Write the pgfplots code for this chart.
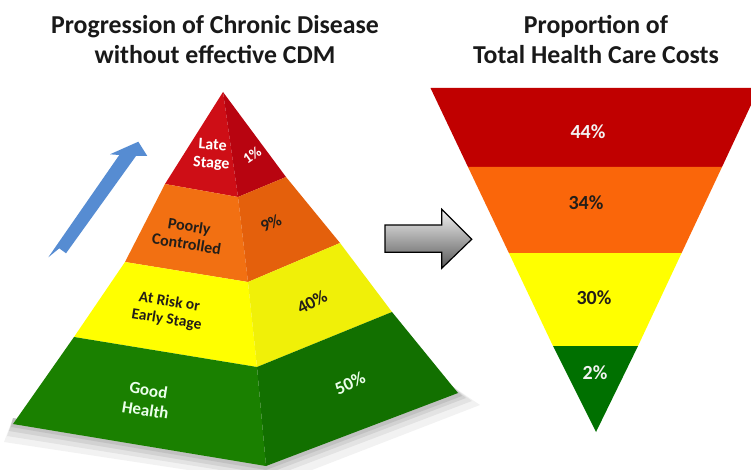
\documentclass[border=0pt]{standalone}
\usepackage{pgfplots}
\pgfplotsset{compat=1.18}
\usepackage{fontspec}
\setmainfont{Carlito}
\definecolor{redF}{RGB}{206,14,22}
\definecolor{redS}{RGB}{184,4,16}
\definecolor{orgF}{RGB}{242,112,18}
\definecolor{orgS}{RGB}{228,96,12}
\definecolor{yelF}{RGB}{255,255,0}
\definecolor{yelS}{RGB}{240,240,8}
\definecolor{grnF}{RGB}{26,128,0}
\definecolor{grnS}{RGB}{18,112,0}
\definecolor{fRed}{RGB}{192,0,0}
\definecolor{fOrg}{RGB}{250,102,10}
\definecolor{fYel}{RGB}{255,255,0}
\definecolor{fGrn}{RGB}{0,112,0}
\definecolor{arrowBlue}{RGB}{86,140,210}
\definecolor{darktxt}{RGB}{35,30,25}
\begin{document}
\begin{tikzpicture}
\begin{axis}[width=751pt,height=470pt,scale only axis,
  xmin=0,xmax=751,ymin=0,ymax=470,y dir=reverse,
  axis lines=none,ticks=none,clip=false,no markers]
% canvas
\addplot[draw=none,fill=white] coordinates {(0,0)(751,0)(751,470)(0,470)} -- cycle;
% soft shadow of pyramid
\addplot[draw=none,fill=black,opacity=0.05] coordinates {(13,418)(266,460)(452,386)(480,405)(312,470)(188,470)(4,442)} -- cycle;
\addplot[draw=none,fill=black,opacity=0.06] coordinates {(13,418)(266,460)(452,386)(472,401)(290,470)(220,470)(7,436)} -- cycle;
\addplot[draw=none,fill=black,opacity=0.07] coordinates {(13,418)(266,460)(452,386)(466,398)(277,470)(243,470)(9,431)} -- cycle;
\addplot[draw=none,fill=black,opacity=0.08] coordinates {(13,418)(266,460)(452,386)(462,396)(266,470)(11,427)} -- cycle;
% pyramid front faces
\addplot[draw=none,fill=redF] coordinates {(223,92)(165,184)(238,197)} -- cycle;
\addplot[draw=none,fill=orgF] coordinates {(165,184)(125,262)(248,282)(238,197)} -- cycle;
\addplot[draw=none,fill=yelF] coordinates {(125,262)(74,337)(257,367)(248,282)} -- cycle;
\addplot[draw=none,fill=grnF] coordinates {(74,337)(13,424)(266,466)(257,367)} -- cycle;
% pyramid side faces
\addplot[draw=none,fill=redS] coordinates {(223,92)(238,197)(286,177)} -- cycle;
\addplot[draw=none,fill=orgS] coordinates {(238,197)(248,282)(340,243)(286,177)} -- cycle;
\addplot[draw=none,fill=yelS] coordinates {(248,282)(257,367)(392,312)(340,243)} -- cycle;
\addplot[draw=none,fill=grnS] coordinates {(257,367)(266,466)(458,393)(392,312)} -- cycle;
% blue arrow
\addplot[draw=none,fill=arrowBlue] coordinates {(138.3,141.7)(147.3,156)(136,156)(66,253.3)(59.3,248.3)(48.3,257.3)(119.3,155)(110,154.3)} -- cycle;
% gray arrow
\addplot[draw=black,line width=1.2pt,top color=gray!10,bottom color=black!65] coordinates {(385,225)(441.7,225)(441.7,209.3)(471.7,239.3)(441.7,268.3)(441.7,252.3)(385,252.3)} -- cycle;
% funnel
\addplot[draw=none,fill=fRed] coordinates {(430.5,88)(751,88)(751,105)(722,167)(468,167)} -- cycle;
\addplot[draw=none,fill=fOrg] coordinates {(468,167)(722,167)(681.6,253)(508.9,253)} -- cycle;
\addplot[draw=none,fill=fYel] coordinates {(508.9,253)(681.6,253)(638,346)(553,346)} -- cycle;
\addplot[draw=none,fill=fGrn] coordinates {(553,346)(638,346)(596,432)} -- cycle;
% titles
\node[align=center,font=\bfseries\fontsize{25.8}{30}\selectfont,text=black!90] at (axis cs:215,40) {Progression of Chronic Disease\\without effective CDM};
\node[align=center,font=\bfseries\fontsize{25.8}{30}\selectfont,text=black!90] at (axis cs:596,40) {Proportion of\\Total Health Care Costs};
% pyramid labels
\node[align=center,font=\bfseries\fontsize{16}{18}\selectfont,text=white,rotate=-4] at (axis cs:212,155) {Late\\Stage};
\node[font=\bfseries\fontsize{15}{17}\selectfont,text=white,rotate=35] at (axis cs:252,155) {1\%};
\node[align=center,font=\bfseries\fontsize{16}{18}\selectfont,text=darktxt,rotate=-9] at (axis cs:188,235) {Poorly\\Controlled};
\node[font=\bfseries\fontsize{17}{19}\selectfont,text=darktxt,rotate=25] at (axis cs:271,223) {9\%};
\node[align=center,font=\bfseries\fontsize{15.5}{18}\selectfont,text=darktxt,rotate=-9] at (axis cs:168,311) {At Risk or\\Early Stage};
\node[font=\bfseries\fontsize{18}{20}\selectfont,text=darktxt,rotate=28] at (axis cs:312,302) {40\%};
\node[align=center,font=\bfseries\fontsize{17}{20}\selectfont,text=white!92!green,rotate=-9] at (axis cs:147,400) {Good\\Health};
\node[font=\bfseries\fontsize{18}{20}\selectfont,text=white!92!green,rotate=25] at (axis cs:350,383) {50\%};
% funnel labels
\node[font=\bfseries\fontsize{20}{22}\selectfont,text=white!90!gray] at (axis cs:588,132) {44\%};
\node[font=\bfseries\fontsize{20}{22}\selectfont,text=darktxt] at (axis cs:586,203) {34\%};
\node[font=\bfseries\fontsize{20}{22}\selectfont,text=darktxt] at (axis cs:594,298) {30\%};
\node[font=\bfseries\fontsize{20}{22}\selectfont,text=white!90!gray] at (axis cs:595,373) {2\%};
\end{axis}
\end{tikzpicture}
\end{document}
